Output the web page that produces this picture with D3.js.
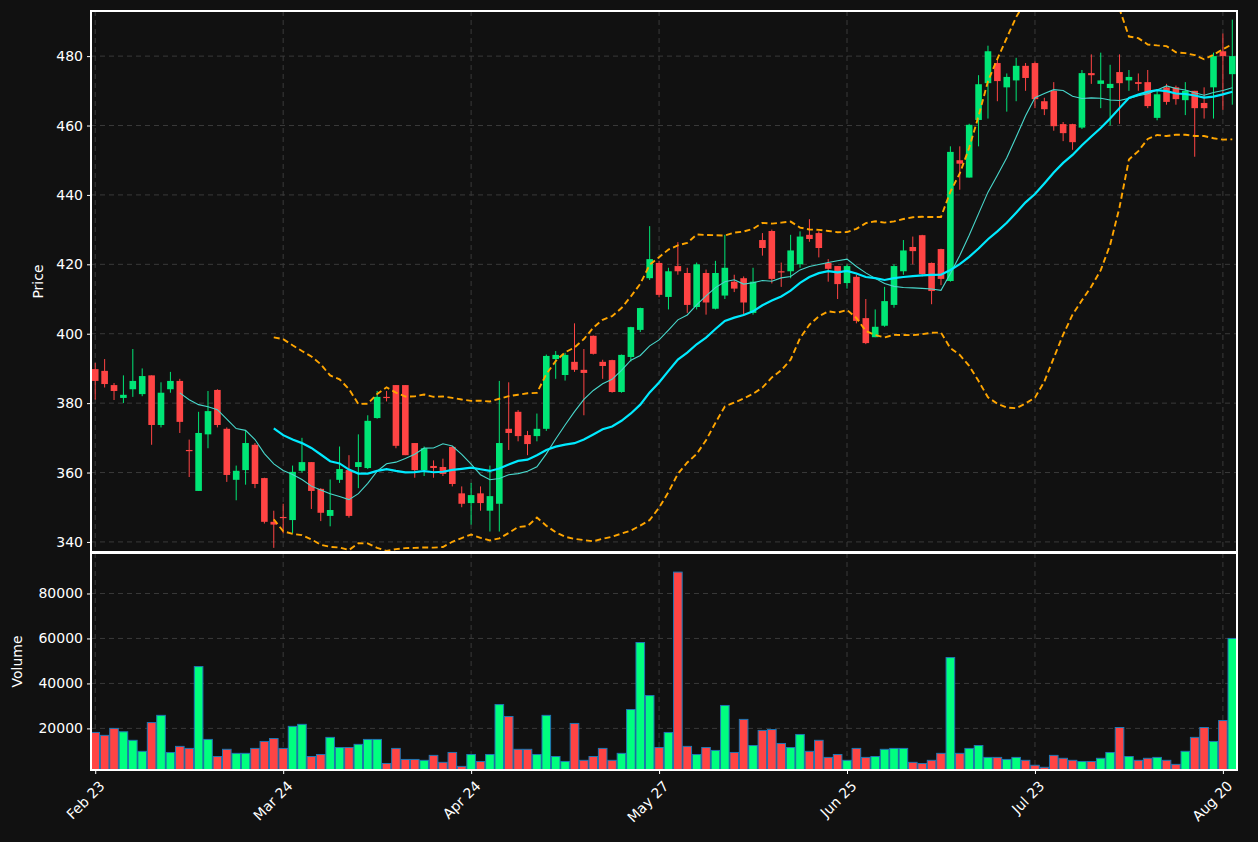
<!DOCTYPE html>
<html>
<head>
<meta charset="utf-8">
<script src="https://cdn.jsdelivr.net/npm/d3@7"></script>
<style>
  body { margin: 0; background: #111111; }
  text { font-family: "DejaVu Sans", sans-serif; }
</style>
</head>
<body>
<svg id="chart" width="1258" height="842"></svg>
<script>
// OHLC, one entry per trading day
const opens = [389.8,389.3,385.2,381.5,384,382.6,388,373.7,384,386.4,366.5,354.7,371,383.8,372.6,357.9,360.7,368,358.4,345.8,
  347.2,346.3,360.5,363,355.3,347.5,357.9,360.7,361.6,361.3,375.7,381.8,385.2,385.2,368.5,360.7,361.9,361.6,367.4,354,
  351.2,354,349,351,372.6,377.5,370.8,370.5,372.6,392.7,388.1,391.9,389.6,399.4,391.9,392.4,383.2,393.3,401.1,416,
  420.4,410.6,419.5,417.5,407.7,417.5,407.2,411,415,416,406,427,429.6,418,418,420,428.5,429,420.4,419.5,
  414.6,416.4,404.5,399,402.3,408.3,418,425,428.4,420.4,424.4,415.2,450,445,461.6,472.2,478,471,473,477.2,
  478,467,470,460.4,460.4,459.4,475.1,472,470.8,475.4,473,472.5,472.5,462.2,471,471,467.3,470,466.5,471,
  481.4,474.8];
const closes = [386.4,385.5,383.5,382.4,386.4,387.8,373.7,383,386.4,374.6,366.4,371.4,377.7,373.7,359.3,360.5,368.5,356.7,345.8,345,
  347.1,360.2,363,354.7,348.4,349.2,361,347.5,363,374.9,381.8,381.7,367.7,365,360.7,367,361.3,359.6,356.7,351,
  353.5,351.2,353.2,368.5,371.4,370.5,368.2,372.6,393.6,393.9,393.9,389.6,388.7,394.2,390.7,383.2,393.9,401.9,407.4,421.5,
  411.2,418,418,408.3,420,409,417.5,419,413,409,415,424.7,415.8,417.9,424,428,427.3,424.7,418.7,414.3,
  419.5,403.7,397.3,402,409.4,419.5,424,423.8,417.2,412.3,415.8,452.4,449,460.2,471.9,481.4,472.8,474,477.2,473.7,
  467.6,464.7,459.8,457.8,455.2,475.1,474.5,473,472,472.2,474,472,465.6,469,466.8,467.6,470,465,465,480,
  480,480];
const highs = [391.6,392.7,385.8,388,395.6,390,388,386,389,387,369.5,377.5,383.5,384,373,362,372,368.5,358.5,349,
  351,362,370,363,355.5,358,367.5,365,371,376.5,383.5,383.5,385.2,385.2,368.5,367.5,363.5,364,367.5,356,
  357,356,362,386.4,386,378,372,377,394,395,394.5,403,395.6,399.5,392.5,392.5,394,402,407.5,431,
  421,419,426.4,419,420.5,418.5,421,428.5,417,416.5,419,429,430,420.5,428.5,429.5,433,429.5,421.5,419.5,
  420,417,410,407,413.5,420,427,428,428.5,420.5,424.5,454,454,460.5,474.5,483,479,475,479.5,478,
  478.5,468,472.5,461,460.5,476,480.5,481,477.5,480.5,476,475,476,470,472,471.5,472.5,470,471,481,
  486.5,490.5];
const lows = [381,384.5,380.9,380,381.8,382,368,373,383,371.4,358.7,354.7,367,373,357.3,352,356.5,355.5,345.3,338.3,
  342.5,342.5,360,349.5,346,344.5,357,347,355.5,361,375.5,380.5,367,365,358.5,359,358.5,359,356,350,
  345,349,343,343,366.5,369,365,369,372,387,386.5,389,376.5,394,387,383,383,392,400.5,415.5,
  410.5,407,417,406,407,405.5,407,410,412,405.5,405.5,422.5,414.5,413.5,416,419,426.5,422,415,410,
  413,403,397,399,402,407.5,417,420,416.5,408.5,414,415,441.5,445,454,462,467,464,467,470,
  465,463,458.5,455.5,453,459,472,465,460,460.5,470,470,465,461.5,466,466,463,451,462,462,
  464.5,466];
const volumes = [18200,16900,20000,18500,14700,9800,22600,25800,9300,12000,11100,47500,15100,7500,10700,8900,8900,11100,14200,15500,
  11100,20900,21800,7500,8400,16000,11500,11500,12900,15100,15100,4400,11100,6200,6200,5800,8000,4900,9300,3100,
  8400,5300,8400,30600,25300,10700,10700,8400,25800,7500,5300,22200,5800,7500,11100,5800,8900,28400,58200,34600,
  11500,18200,89500,12000,8400,11500,10200,30200,9300,24000,12400,19100,19500,13300,11500,17300,9800,14700,7100,8400,
  5800,11100,7100,7500,10700,11100,11100,4900,4400,5800,8900,51500,8900,11100,12400,7100,7100,6200,7100,5800,
  3600,2700,8000,6700,5800,5300,5300,6700,9300,20400,7500,5800,6700,7100,5800,4000,9800,16000,20400,14200,
  23500,60000];
const tickIndex = [0, 20, 40, 60, 80, 100, 120];
const tickLabels = ['Feb 23', 'Mar 24', 'Apr 24', 'May 27', 'Jun 25', 'Jul 23', 'Aug 20'];
const priceTicks = [340, 360, 380, 400, 420, 440, 460, 480];
const volumeTicks = [20000, 40000, 60000, 80000];

const red = '#ff4444', green = '#00e676', volGreen = '#00ff7f';
const svg = d3.select('#chart');
svg.append('rect').attr('width', 1258).attr('height', 842).attr('fill', '#111111');

const left = 91, right = 1237;
const pTop = 11, pBottom = 552, vTop = 553, vBottom = 770;
const idx = d3.range(opens.length);
const x = d3.scaleLinear().domain([-0.45, 121.5]).range([left, right]);
const y = d3.scaleLinear().domain([337.1, 493]).range([pBottom, pTop]);
const yv = d3.scaleLinear().domain([1500, 98000]).range([vBottom, vTop]);

svg.append('defs').append('clipPath').attr('id', 'pclip')
  .append('rect').attr('x', left).attr('y', pTop).attr('width', right - left).attr('height', pBottom - pTop);

// grid
function grid(yscale, ticks, top, bottom) {
  const g = svg.append('g').attr('stroke', '#3a3a3a').attr('stroke-dasharray', '5,4').attr('stroke-width', 1);
  ticks.forEach(t => g.append('line').attr('x1', left).attr('x2', right).attr('y1', yscale(t)).attr('y2', yscale(t)));
  tickIndex.forEach(i => g.append('line').attr('x1', x(i)).attr('x2', x(i)).attr('y1', top).attr('y2', bottom));
}
grid(y, priceTicks, pTop, pBottom);
grid(yv, volumeTicks, vTop, vBottom);

// indicators
function sma(arr, n) {
  return arr.map((_, i) => i < n - 1 ? null : d3.mean(arr.slice(i - n + 1, i + 1)));
}
const ma10 = sma(closes, 10);
const ma20 = sma(closes, 20);
const sd20 = closes.map((_, i) => i < 19 ? null : d3.deviation(closes.slice(i - 19, i + 1)) * Math.sqrt(19 / 20));
const upper = ma20.map((m, i) => m == null ? null : m + 2 * sd20[i]);
const lower = ma20.map((m, i) => m == null ? null : m - 2 * sd20[i]);

const plot = svg.append('g').attr('clip-path', 'url(#pclip)');

// candles
const candle = plot.selectAll('g.c').data(idx).enter().append('g');
candle.append('line')
  .attr('x1', i => x(i)).attr('x2', i => x(i))
  .attr('y1', i => y(highs[i])).attr('y2', i => y(lows[i]))
  .attr('stroke', i => closes[i] >= opens[i] ? green : red).attr('stroke-width', 1);
candle.append('rect')
  .attr('x', i => x(i) - 3.3).attr('width', 6.6)
  .attr('y', i => y(Math.max(opens[i], closes[i])))
  .attr('height', i => Math.max(1.2, Math.abs(y(opens[i]) - y(closes[i]))))
  .attr('fill', i => closes[i] >= opens[i] ? green : red);

const line = arr => d3.line().defined(i => arr[i] != null).x(i => x(i)).y(i => y(arr[i]))(idx);
[upper, lower].forEach(b => plot.append('path').attr('d', line(b)).attr('fill', 'none')
  .attr('stroke', '#ffa500').attr('stroke-width', 1.9).attr('stroke-dasharray', '6,3.5'));
plot.append('path').attr('d', line(ma10)).attr('fill', 'none').attr('stroke', '#48d8cc')
  .attr('stroke-width', 1.1);
plot.append('path').attr('d', line(ma20)).attr('fill', 'none').attr('stroke', '#00eaff')
  .attr('stroke-width', 2.2);

// volume
svg.append('g').selectAll('rect').data(idx).enter().append('rect')
  .attr('x', i => x(i) - 4.3).attr('width', 8.6)
  .attr('y', i => yv(volumes[i])).attr('height', i => vBottom - yv(volumes[i]))
  .attr('fill', i => closes[i] >= opens[i] ? volGreen : red)
  .attr('stroke', '#1f77b4').attr('stroke-width', 1);

// frames
[[pTop, pBottom], [vTop, vBottom]].forEach(([t, b]) => svg.append('rect')
  .attr('x', left).attr('y', t).attr('width', right - left).attr('height', b - t)
  .attr('fill', 'none').attr('stroke', '#ffffff').attr('stroke-width', 1.2).attr('shape-rendering', 'crispEdges'));

// axes
function styleAxis(g) {
  g.select('.domain').remove();
  g.selectAll('line').attr('stroke', '#ffffff');
  g.selectAll('text').attr('fill', '#ffffff').style('font-size', '14px').style('font-family', 'DejaVu Sans');
}
svg.append('g').attr('transform', `translate(${left},0)`)
  .call(d3.axisLeft(y).tickValues(priceTicks).tickSize(4).tickPadding(4)).call(styleAxis);
svg.append('g').attr('transform', `translate(${left},0)`)
  .call(d3.axisLeft(yv).tickValues(volumeTicks).tickFormat(d3.format('d')).tickSize(4).tickPadding(4)).call(styleAxis);
const xa = svg.append('g').attr('transform', `translate(0,${vBottom})`)
  .call(d3.axisBottom(x).tickValues(tickIndex).tickFormat((d, k) => tickLabels[k]).tickSize(4)).call(styleAxis);
xa.selectAll('text').attr('text-anchor', 'end').attr('dx', 0).attr('dy', 0)
  .attr('transform', 'translate(5,12) rotate(-45)');

svg.append('text').attr('transform', `translate(43,${(pTop + pBottom) / 2}) rotate(-90)`)
  .attr('text-anchor', 'middle').attr('fill', '#ffffff').style('font-size', '14px').text('Price');
svg.append('text').attr('transform', `translate(22,${(vTop + vBottom) / 2}) rotate(-90)`)
  .attr('text-anchor', 'middle').attr('fill', '#ffffff').style('font-size', '14px').text('Volume');
</script>
</body>
</html>
